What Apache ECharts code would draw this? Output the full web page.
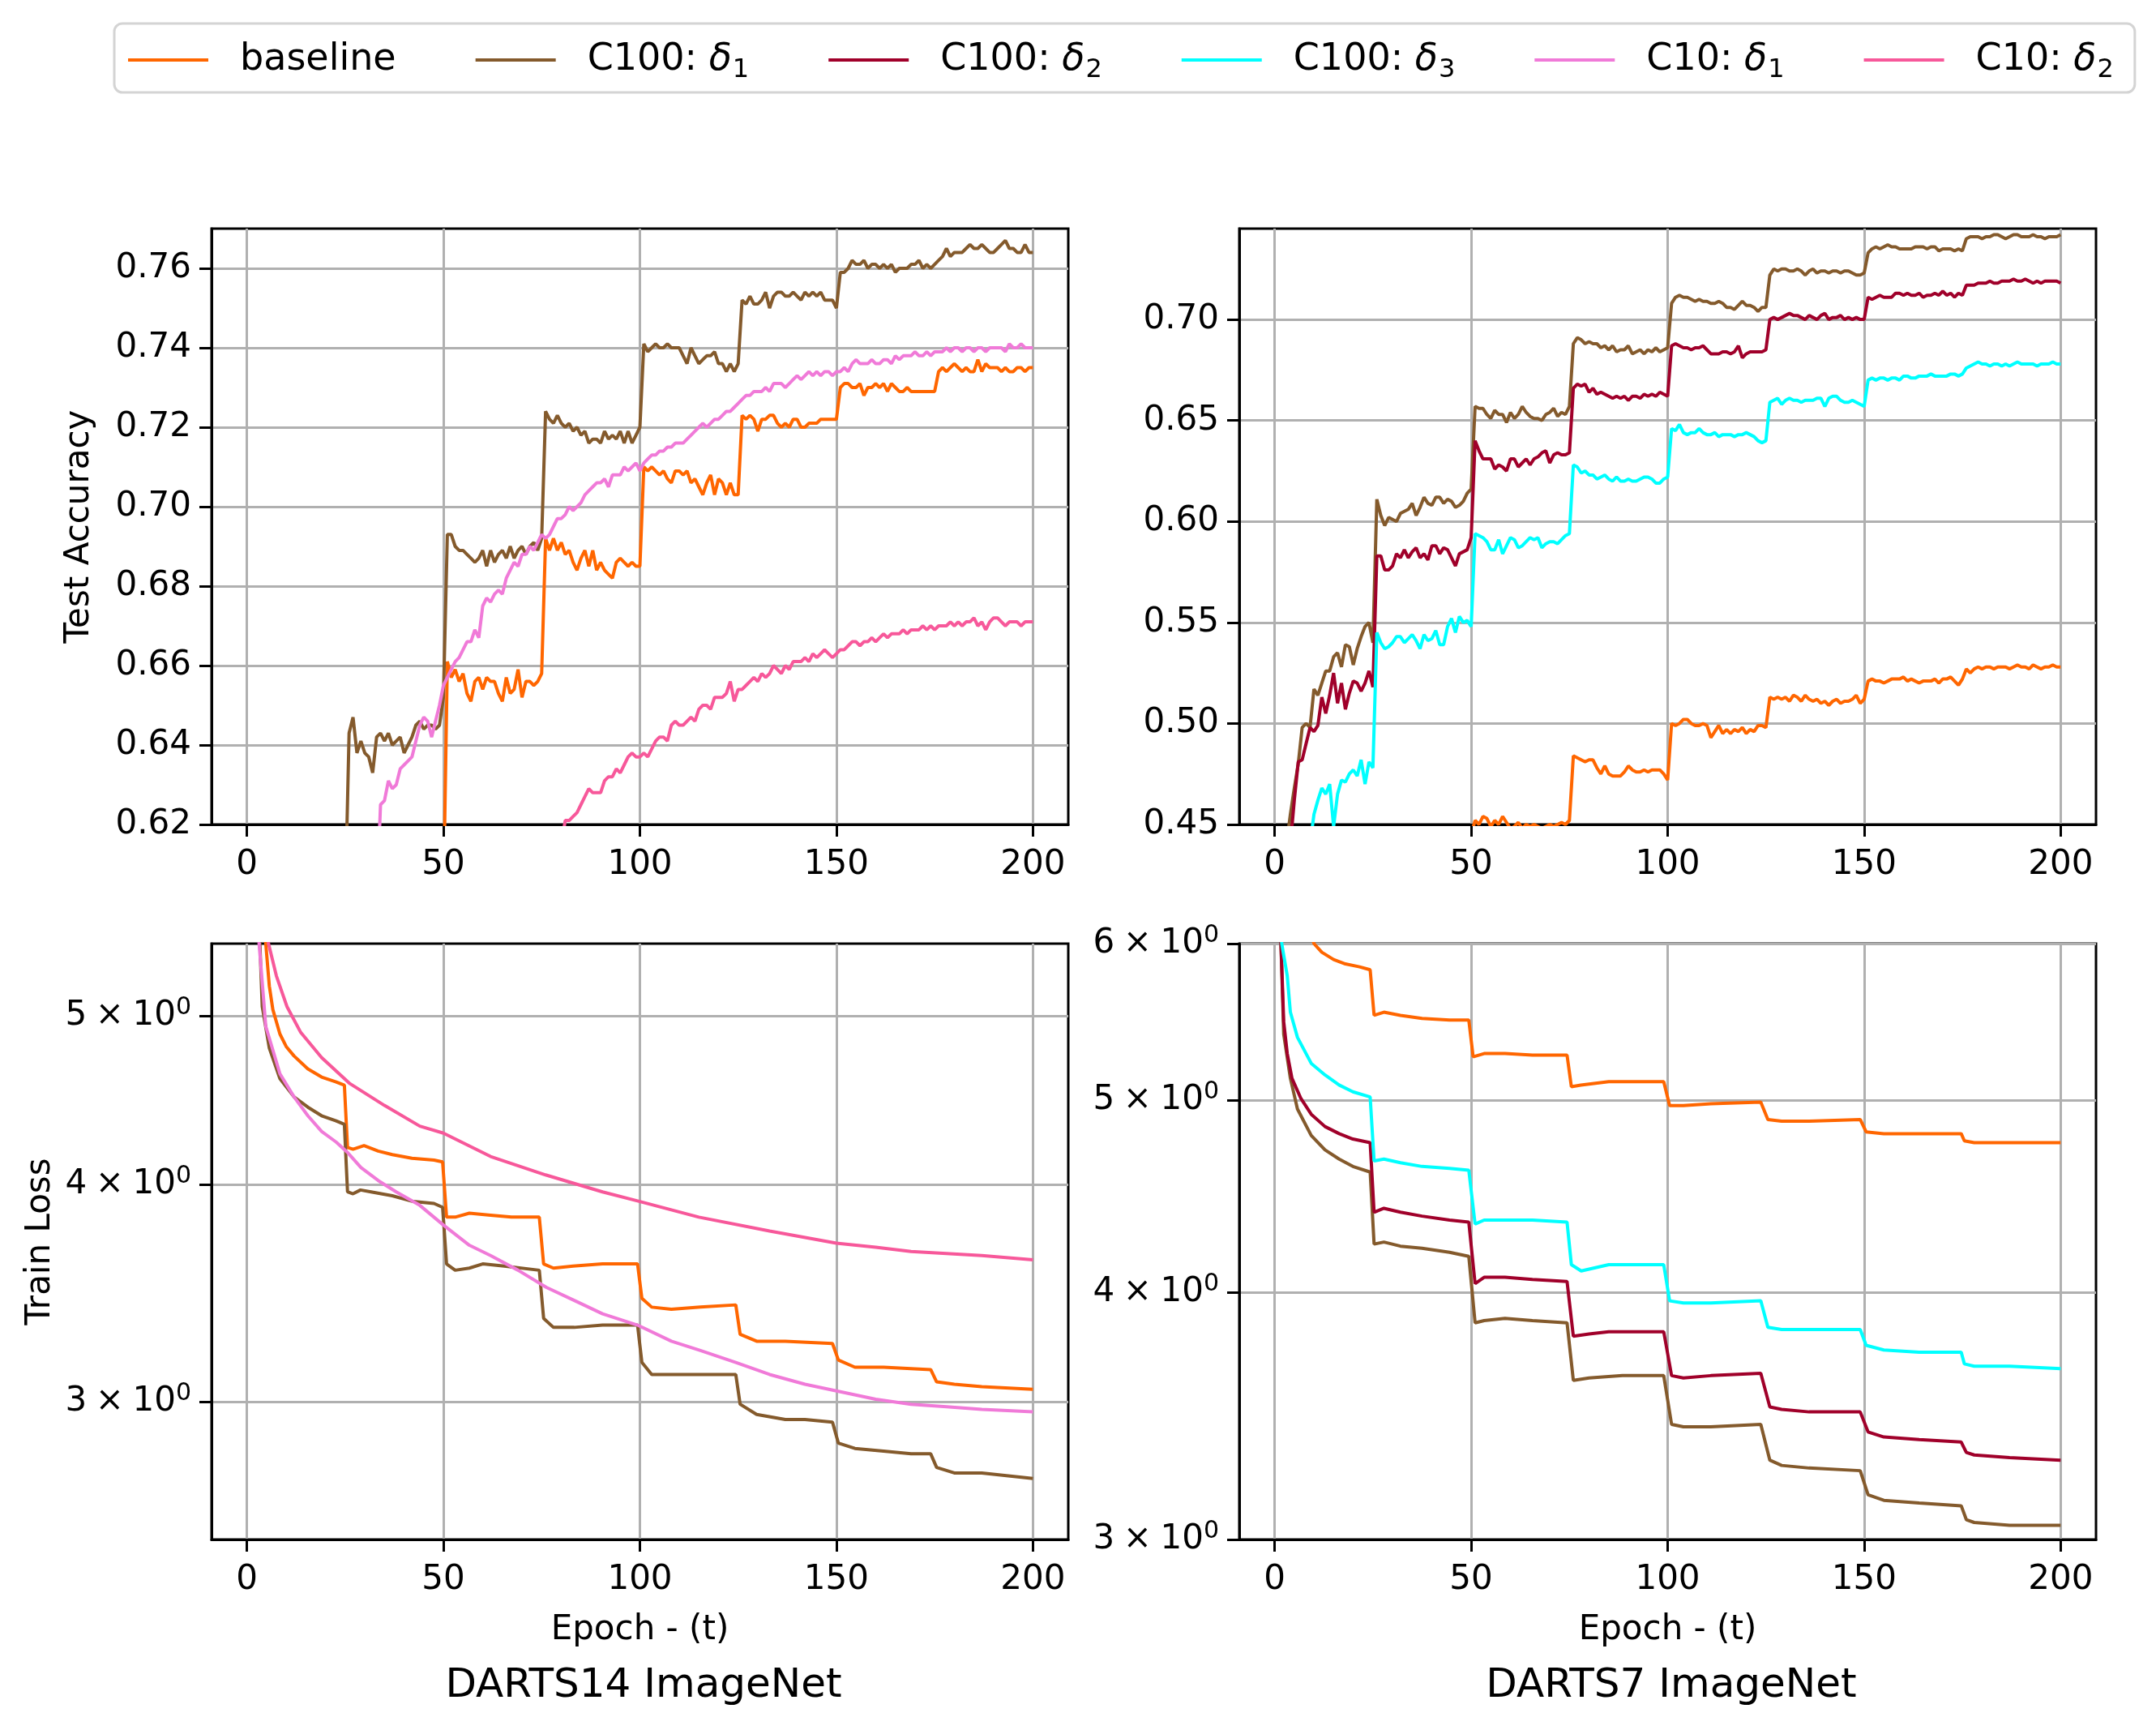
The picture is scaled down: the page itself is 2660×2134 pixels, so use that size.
<!DOCTYPE html>
<html><head><meta charset="utf-8">
<script src="https://cdn.jsdelivr.net/npm/echarts@6/dist/echarts.min.js"></script>
<style>html,body{margin:0;padding:0;background:#fff}#c{width:2660px;height:2134px}</style>
</head><body><div id="c"></div>
<script>
// ---------------- DATA ----------------
const seriesNames = ['baseline', 'C100: δ1', 'C100: δ2', 'C100: δ3', 'C10: δ1', 'C10: δ2'];
const panelTitles = ['DARTS14 ImageNet', 'DARTS7 ImageNet'];
const xTicks = [0, 50, 100, 150, 200];
const accTicks14 = [0.62, 0.64, 0.66, 0.68, 0.70, 0.72, 0.74, 0.76];
const accTicks7 = [0.45, 0.50, 0.55, 0.60, 0.65, 0.70];
const lossTicks14 = [3, 4, 5];
const lossTicks7 = [3, 4, 5, 6];

// DARTS14 test accuracy: per-epoch values starting at the given epoch
const acc14BaselineStart = 50;
const acc14Baseline = [
 0.600,0.661,0.657,0.659,0.656,0.658,0.653,0.651,0.656,0.657,
 0.654,0.657,0.656,0.656,0.653,0.651,0.657,0.653,0.654,0.659,
 0.652,0.656,0.656,0.655,0.656,0.658,0.692,0.689,0.692,0.689,
 0.691,0.688,0.689,0.686,0.684,0.687,0.689,0.685,0.689,0.684,
 0.686,0.684,0.683,0.682,0.686,0.687,0.686,0.685,0.686,0.685,
 0.685,0.710,0.709,0.710,0.709,0.708,0.709,0.707,0.706,0.709,
 0.709,0.708,0.709,0.706,0.707,0.705,0.703,0.706,0.708,0.703,
 0.707,0.706,0.703,0.706,0.703,0.703,0.723,0.722,0.723,0.722,
 0.719,0.722,0.722,0.723,0.723,0.721,0.720,0.721,0.720,0.722,
 0.722,0.720,0.720,0.721,0.721,0.721,0.722,0.722,0.722,0.722,
 0.722,0.730,0.731,0.731,0.730,0.730,0.731,0.728,0.730,0.730,
 0.731,0.730,0.731,0.729,0.731,0.730,0.729,0.729,0.730,0.729,
 0.729,0.729,0.729,0.729,0.729,0.729,0.734,0.735,0.734,0.735,
 0.736,0.735,0.734,0.735,0.734,0.734,0.737,0.734,0.736,0.735,
 0.735,0.735,0.734,0.735,0.734,0.734,0.735,0.735,0.734,0.735,0.735];
const acc14C100d1Start = 25;
const acc14C100d1 = [
 0.600,0.643,0.647,0.638,0.641,
 0.638,0.637,0.633,0.642,0.643,0.641,0.643,0.640,0.641,0.642,
 0.638,0.640,0.642,0.645,0.646,0.644,0.645,0.645,0.644,0.645,
 0.652,0.693,0.693,0.690,0.689,0.689,0.688,0.687,0.686,0.687,
 0.689,0.685,0.689,0.686,0.688,0.689,0.687,0.690,0.687,0.689,
 0.690,0.688,0.690,0.691,0.689,0.692,0.724,0.722,0.721,0.723,
 0.721,0.720,0.721,0.719,0.720,0.718,0.719,0.716,0.717,0.717,
 0.716,0.719,0.717,0.718,0.717,0.719,0.716,0.719,0.716,0.718,
 0.720,0.741,0.739,0.740,0.741,0.740,0.740,0.741,0.740,0.740,
 0.740,0.738,0.736,0.740,0.738,0.736,0.737,0.738,0.738,0.739,
 0.736,0.736,0.734,0.736,0.734,0.736,0.752,0.751,0.753,0.751,
 0.751,0.752,0.754,0.750,0.753,0.754,0.754,0.753,0.753,0.754,
 0.753,0.752,0.754,0.753,0.754,0.753,0.754,0.752,0.752,0.752,
 0.750,0.759,0.759,0.760,0.762,0.761,0.761,0.762,0.760,0.761,
 0.761,0.760,0.761,0.760,0.761,0.759,0.760,0.760,0.760,0.761,
 0.761,0.762,0.760,0.761,0.760,0.761,0.762,0.763,0.765,0.763,
 0.764,0.764,0.764,0.765,0.766,0.765,0.765,0.766,0.765,0.764,
 0.764,0.765,0.766,0.767,0.765,0.765,0.764,0.764,0.766,0.764,0.764];
const acc14C10d1Start = 33;
const acc14C10d1 = [
 0.600,0.625,0.626,0.631,0.629,0.630,0.634,
 0.635,0.636,0.637,0.641,0.645,0.647,0.646,0.642,0.646,0.650,
 0.655,0.657,0.659,0.661,0.662,0.664,0.666,0.666,0.669,0.667,
 0.675,0.677,0.676,0.678,0.679,0.678,0.682,0.684,0.686,0.685,
 0.688,0.688,0.690,0.689,0.691,0.693,0.692,0.693,0.695,0.697,
 0.697,0.698,0.700,0.699,0.700,0.701,0.703,0.704,0.705,0.706,
 0.706,0.707,0.705,0.708,0.708,0.708,0.710,0.709,0.710,0.711,
 0.709,0.711,0.712,0.713,0.713,0.714,0.714,0.715,0.715,0.716,
 0.716,0.716,0.717,0.718,0.719,0.720,0.721,0.720,0.721,0.722,
 0.722,0.723,0.724,0.724,0.725,0.726,0.727,0.728,0.728,0.729,
 0.729,0.729,0.730,0.729,0.731,0.731,0.731,0.730,0.731,0.732,
 0.733,0.732,0.733,0.734,0.733,0.734,0.733,0.734,0.734,0.733,
 0.734,0.734,0.735,0.734,0.736,0.737,0.736,0.736,0.736,0.737,
 0.736,0.736,0.737,0.737,0.736,0.738,0.737,0.738,0.738,0.738,
 0.739,0.738,0.738,0.739,0.738,0.739,0.739,0.739,0.740,0.739,
 0.740,0.740,0.739,0.740,0.740,0.739,0.740,0.740,0.739,0.740,
 0.740,0.740,0.740,0.739,0.741,0.740,0.740,0.741,0.740,0.740,0.740];
const acc14C10d2Start = 80;
const acc14C10d2 = [
 0.615,0.621,0.621,0.622,0.623,0.625,0.627,0.629,0.628,0.628,
 0.628,0.631,0.632,0.632,0.634,0.633,0.635,0.637,0.638,0.637,
 0.637,0.638,0.637,0.639,0.641,0.642,0.642,0.641,0.645,0.646,
 0.645,0.645,0.646,0.647,0.646,0.649,0.650,0.650,0.649,0.652,
 0.652,0.652,0.653,0.656,0.651,0.654,0.654,0.655,0.656,0.657,
 0.656,0.658,0.657,0.658,0.660,0.659,0.658,0.660,0.659,0.661,
 0.661,0.661,0.662,0.661,0.663,0.662,0.663,0.664,0.663,0.662,
 0.663,0.664,0.664,0.665,0.666,0.666,0.665,0.666,0.666,0.667,
 0.666,0.667,0.668,0.667,0.668,0.668,0.668,0.669,0.668,0.669,
 0.669,0.669,0.670,0.669,0.670,0.669,0.670,0.670,0.670,0.671,
 0.670,0.671,0.670,0.671,0.671,0.672,0.670,0.671,0.669,0.671,
 0.672,0.672,0.671,0.670,0.671,0.671,0.671,0.670,0.671,0.671,0.671];

// DARTS7 test accuracy
const acc7BaselineStart = 49;
const acc7Baseline = [
 0.440,
 0.445,0.452,0.450,0.454,0.453,0.449,0.452,0.450,0.454,0.451,
 0.448,0.449,0.451,0.448,0.450,0.449,0.450,0.449,0.448,0.449,
 0.450,0.449,0.450,0.451,0.450,0.452,0.484,0.483,0.482,0.481,
 0.482,0.482,0.478,0.475,0.479,0.475,0.474,0.474,0.474,0.476,
 0.479,0.477,0.476,0.476,0.477,0.476,0.477,0.477,0.477,0.475,
 0.472,0.500,0.499,0.500,0.502,0.502,0.500,0.499,0.499,0.500,
 0.499,0.493,0.496,0.499,0.495,0.497,0.495,0.497,0.496,0.498,
 0.495,0.497,0.496,0.499,0.499,0.498,0.513,0.512,0.513,0.512,
 0.513,0.511,0.514,0.513,0.511,0.514,0.512,0.511,0.512,0.510,
 0.511,0.509,0.511,0.512,0.510,0.511,0.511,0.512,0.514,0.510,
 0.512,0.521,0.522,0.521,0.521,0.520,0.521,0.522,0.522,0.522,
 0.523,0.521,0.522,0.521,0.520,0.521,0.521,0.521,0.522,0.520,
 0.522,0.522,0.523,0.521,0.519,0.522,0.527,0.525,0.527,0.528,
 0.527,0.528,0.528,0.527,0.528,0.528,0.528,0.527,0.528,0.529,
 0.528,0.528,0.527,0.529,0.528,0.527,0.528,0.528,0.529,0.528,0.528];
const acc7C100d1Start = 3;
const acc7C100d1 = [
 0.440,0.455,0.468,0.480,0.498,0.500,0.498,
 0.517,0.514,0.520,0.526,0.526,0.533,0.535,0.528,0.539,0.538,
 0.529,0.537,0.543,0.548,0.550,0.540,0.611,0.603,0.598,0.602,
 0.601,0.600,0.604,0.605,0.606,0.609,0.603,0.607,0.612,0.609,
 0.608,0.612,0.612,0.609,0.611,0.610,0.607,0.608,0.610,0.614,
 0.616,0.657,0.656,0.656,0.653,0.651,0.655,0.653,0.653,0.649,
 0.654,0.651,0.653,0.657,0.654,0.652,0.651,0.651,0.650,0.653,
 0.654,0.656,0.652,0.654,0.653,0.657,0.688,0.691,0.690,0.688,
 0.689,0.688,0.688,0.686,0.687,0.685,0.687,0.684,0.685,0.685,
 0.687,0.683,0.684,0.685,0.683,0.685,0.684,0.686,0.684,0.685,
 0.686,0.708,0.711,0.712,0.711,0.711,0.710,0.709,0.710,0.709,
 0.709,0.708,0.708,0.709,0.708,0.706,0.706,0.705,0.707,0.709,
 0.707,0.707,0.706,0.704,0.706,0.706,0.722,0.725,0.724,0.725,
 0.725,0.724,0.724,0.725,0.724,0.722,0.724,0.725,0.723,0.724,
 0.724,0.723,0.724,0.724,0.723,0.724,0.724,0.723,0.722,0.722,
 0.723,0.733,0.735,0.736,0.735,0.736,0.737,0.736,0.736,0.735,
 0.735,0.735,0.735,0.736,0.736,0.736,0.735,0.736,0.736,0.734,
 0.735,0.735,0.735,0.734,0.735,0.734,0.740,0.741,0.741,0.741,
 0.740,0.741,0.741,0.742,0.742,0.741,0.740,0.741,0.742,0.742,
 0.741,0.741,0.741,0.742,0.741,0.741,0.740,0.741,0.741,0.741,0.742];
const acc7C100d2Start = 4;
const acc7C100d2 = [
 0.440,0.462,0.481,0.482,0.490,0.498,
 0.496,0.499,0.513,0.505,0.514,0.525,0.510,0.520,0.507,0.515,
 0.521,0.520,0.516,0.520,0.526,0.518,0.583,0.583,0.576,0.576,
 0.578,0.584,0.582,0.586,0.582,0.585,0.587,0.582,0.584,0.581,
 0.588,0.588,0.584,0.587,0.586,0.582,0.578,0.584,0.585,0.586,
 0.592,0.640,0.635,0.631,0.631,0.631,0.626,0.628,0.627,0.625,
 0.631,0.631,0.627,0.629,0.631,0.628,0.631,0.632,0.634,0.635,
 0.629,0.633,0.634,0.633,0.633,0.634,0.666,0.668,0.667,0.668,
 0.664,0.666,0.663,0.664,0.663,0.662,0.661,0.662,0.661,0.662,
 0.660,0.662,0.662,0.661,0.663,0.662,0.663,0.662,0.664,0.663,
 0.662,0.687,0.688,0.687,0.686,0.686,0.685,0.686,0.686,0.687,
 0.685,0.683,0.683,0.683,0.684,0.684,0.683,0.684,0.687,0.681,
 0.683,0.684,0.684,0.684,0.684,0.685,0.700,0.701,0.700,0.701,
 0.702,0.703,0.702,0.702,0.701,0.700,0.702,0.701,0.700,0.702,
 0.703,0.700,0.701,0.701,0.702,0.700,0.701,0.700,0.701,0.700,
 0.700,0.711,0.710,0.711,0.712,0.711,0.711,0.711,0.713,0.713,
 0.712,0.713,0.712,0.712,0.713,0.711,0.712,0.712,0.713,0.712,
 0.714,0.712,0.713,0.711,0.713,0.712,0.717,0.717,0.717,0.718,
 0.718,0.718,0.719,0.718,0.718,0.719,0.719,0.719,0.720,0.719,
 0.719,0.720,0.719,0.718,0.719,0.718,0.719,0.719,0.719,0.719,0.718];
const acc7C100d3Start = 9;
const acc7C100d3 = [
 0.440,
 0.455,0.462,0.468,0.465,0.470,0.449,0.465,0.472,0.471,0.475,
 0.477,0.474,0.482,0.470,0.481,0.478,0.545,0.540,0.537,0.538,
 0.540,0.543,0.543,0.540,0.542,0.544,0.541,0.537,0.544,0.541,
 0.542,0.546,0.539,0.539,0.548,0.552,0.545,0.553,0.550,0.551,
 0.548,0.594,0.593,0.592,0.590,0.586,0.586,0.591,0.584,0.588,
 0.592,0.591,0.587,0.588,0.590,0.592,0.591,0.592,0.587,0.589,
 0.590,0.590,0.589,0.591,0.593,0.594,0.628,0.627,0.624,0.625,
 0.623,0.623,0.621,0.622,0.623,0.621,0.620,0.622,0.620,0.620,
 0.621,0.620,0.620,0.621,0.622,0.622,0.621,0.619,0.619,0.621,
 0.622,0.646,0.645,0.648,0.644,0.643,0.644,0.644,0.646,0.644,
 0.643,0.643,0.644,0.642,0.643,0.643,0.643,0.642,0.643,0.643,
 0.644,0.643,0.642,0.640,0.639,0.640,0.659,0.660,0.661,0.658,
 0.660,0.661,0.660,0.660,0.659,0.660,0.660,0.660,0.661,0.661,
 0.657,0.661,0.662,0.662,0.660,0.659,0.659,0.660,0.659,0.658,
 0.657,0.670,0.671,0.670,0.671,0.671,0.670,0.671,0.671,0.670,
 0.672,0.672,0.671,0.671,0.672,0.672,0.672,0.673,0.672,0.672,
 0.672,0.672,0.673,0.673,0.672,0.673,0.676,0.677,0.678,0.679,
 0.678,0.678,0.677,0.678,0.678,0.677,0.678,0.677,0.678,0.679,
 0.678,0.678,0.678,0.678,0.677,0.678,0.678,0.678,0.679,0.678,0.678];

// DARTS14 train loss: [epoch, loss]
const loss14Baseline = [[4,5.9],[4.8,5.5],[5.7,5.2],[6.6,5.04],[8.4,4.88],[10,4.80],[12,4.74],[15.5,4.66],[19,4.61],[22.7,4.58],[24.8,4.56],[25.6,4.20],[27,4.19],[29.8,4.21],[33.4,4.18],[37,4.16],[42,4.14],[47.6,4.13],[49.8,4.12],[50.8,3.83],[53,3.83],[56.6,3.85],[62,3.84],[67.3,3.83],[74.4,3.83],[75.5,3.60],[78,3.58],[83,3.59],[90.5,3.60],[99.4,3.60],[100.5,3.44],[103,3.40],[108,3.39],[115.4,3.40],[124.4,3.41],[125.5,3.28],[129.7,3.25],[137,3.25],[149,3.24],[150.5,3.17],[154.7,3.14],[162,3.14],[174,3.13],[175.5,3.08],[180,3.07],[187,3.06],[200,3.05]];
const loss14C100d1 = [[2.5,6.0],[3.3,5.5],[3.9,5.06],[5.7,4.79],[8.4,4.60],[12,4.49],[15.5,4.43],[19,4.38],[22.7,4.35],[24.8,4.33],[25.6,3.96],[27,3.95],[28.9,3.97],[31.6,3.96],[37,3.94],[42.3,3.91],[47.6,3.90],[49.8,3.88],[50.8,3.60],[53,3.57],[56.6,3.58],[60,3.60],[65.5,3.59],[74.4,3.57],[75.5,3.35],[78,3.31],[83.3,3.31],[90.5,3.32],[99.4,3.32],[100.5,3.16],[103,3.11],[108,3.11],[115,3.11],[124.4,3.11],[125.5,2.99],[129.7,2.95],[137,2.93],[142,2.93],[149,2.92],[150.5,2.84],[154.7,2.82],[162,2.81],[169,2.80],[174,2.80],[175.5,2.75],[180,2.73],[187,2.73],[200,2.71]];
const loss14C10d1 = [[2.5,6.0],[3.1,5.5],[4.8,4.93],[8.4,4.63],[12,4.49],[15.5,4.38],[19,4.29],[22.7,4.23],[25.7,4.17],[29,4.09],[33.4,4.02],[38,3.96],[44,3.89],[50,3.79],[56.6,3.69],[62,3.64],[69,3.57],[76.2,3.49],[83.3,3.43],[90.5,3.37],[99.4,3.32],[108,3.25],[115.4,3.21],[124.4,3.16],[133,3.11],[142,3.07],[151,3.04],[160,3.01],[169,2.99],[178,2.98],[187,2.97],[200,2.96]];
const loss14C10d2 = [[4.5,6.0],[5.5,5.5],[7.5,5.27],[10.2,5.06],[13.7,4.89],[19,4.73],[26.2,4.57],[35,4.44],[44,4.32],[50,4.28],[62,4.15],[76,4.05],[90.5,3.96],[100,3.91],[115,3.83],[133,3.76],[150,3.70],[160,3.68],[169,3.66],[187,3.64],[200,3.62]];

// DARTS7 train loss: [epoch, loss]
const loss7Baseline = [[8,6.2],[10,6.0],[12,5.94],[15,5.89],[18,5.86],[21.6,5.84],[24.3,5.82],[25.3,5.52],[27.8,5.54],[32,5.52],[37.5,5.50],[44.5,5.49],[49.4,5.49],[50.5,5.26],[53.3,5.28],[58.6,5.28],[65.6,5.27],[74.4,5.27],[75.5,5.08],[77.9,5.09],[85,5.11],[90,5.11],[99,5.11],[100.5,4.97],[104,4.97],[111,4.98],[123.7,4.99],[125.5,4.89],[129,4.88],[136,4.88],[149,4.89],[150.5,4.82],[155,4.81],[164,4.81],[174.7,4.81],[175.5,4.77],[178,4.76],[187,4.76],[200,4.76]];
const loss7C100d1 = [[1.3,6.2],[1.6,6.0],[2.3,5.40],[4,5.13],[5.8,4.95],[9.3,4.80],[12.8,4.72],[16.4,4.67],[19.9,4.63],[24.3,4.60],[25.3,4.23],[27.8,4.24],[32,4.22],[37.5,4.21],[44.5,4.19],[49.4,4.17],[51,3.86],[53.3,3.87],[58.6,3.88],[65.6,3.87],[74.4,3.86],[76,3.61],[80,3.62],[88.5,3.63],[99,3.63],[101,3.43],[104,3.42],[111,3.42],[123.7,3.43],[126,3.29],[129,3.27],[136,3.26],[149,3.25],[151,3.16],[155,3.14],[164,3.13],[174.7,3.12],[176,3.07],[178,3.06],[187,3.05],[200,3.05]];
const loss7C100d2 = [[1.3,6.2],[1.6,6.0],[2.3,5.48],[3.2,5.28],[4.4,5.13],[6.7,5.01],[9.3,4.92],[12.8,4.85],[16.4,4.81],[19.9,4.78],[24.3,4.76],[25.3,4.39],[27.8,4.41],[32,4.39],[37.5,4.37],[44.5,4.35],[49.4,4.34],[51,4.04],[53.3,4.07],[58.6,4.07],[65.6,4.06],[74.4,4.05],[76,3.80],[80,3.81],[85,3.82],[94,3.82],[99,3.82],[101,3.63],[104,3.62],[111,3.63],[123.7,3.64],[126,3.50],[129,3.49],[136,3.48],[149,3.48],[151,3.40],[155,3.38],[164,3.37],[174.7,3.36],[176,3.32],[178,3.31],[187,3.30],[200,3.29]];
const loss7C100d3 = [[1.5,6.2],[1.8,6.0],[3.2,5.78],[4,5.54],[5.8,5.38],[9.3,5.22],[12.8,5.15],[16.4,5.09],[19.9,5.05],[24.3,5.02],[25.3,4.66],[27.8,4.67],[32,4.65],[37.5,4.63],[44.5,4.62],[49.4,4.61],[51,4.33],[53.3,4.35],[58.6,4.35],[65.6,4.35],[74.4,4.34],[75.5,4.13],[78,4.10],[85,4.13],[90,4.13],[99,4.13],[100.5,3.96],[104,3.95],[111,3.95],[123.7,3.96],[125.5,3.84],[129,3.83],[136,3.83],[149,3.83],[150.5,3.76],[155,3.74],[164,3.73],[174.7,3.73],[175.5,3.68],[178,3.67],[187,3.67],[200,3.66]];

// ---------------- STYLE ----------------
const FONT = 'DejaVu Sans';
const colors = {
  'baseline': '#ff6600',
  'C100: δ1': '#845a2c',
  'C100: δ2': '#a0002a',
  'C100: δ3': '#00ffff',
  'C10: δ1': '#f07ad8',
  'C10: δ2': '#f7589a'
};
const legendLabels = {
  'baseline': '{n|baseline}',
  'C100: δ1': '{n|C100: }{i|δ}{s|1}',
  'C100: δ2': '{n|C100: }{i|δ}{s|2}',
  'C100: δ3': '{n|C100: }{i|δ}{s|3}',
  'C10: δ1': '{n|C10: }{i|δ}{s|1}',
  'C10: δ2': '{n|C10: }{i|δ}{s|2}'
};

const fromStart = (start, arr) => arr.map((v, i) => [start + i, v]);

function line(name, data, idx) {
  return {
    type: 'line', name, data, xAxisIndex: idx, yAxisIndex: idx,
    showSymbol: false, symbol: 'none', clip: true, silent: true,
    lineStyle: { width: 4, color: colors[name] },
    itemStyle: { color: colors[name] },
    animation: false
  };
}

const axisCommon = {
  axisLine: { show: true, onZero: false, lineStyle: { color: '#000', width: 3 } },
  splitLine: { show: true, lineStyle: { color: '#b0b0b0', width: 3 } }
};

function xAx(gi, withName) {
  return Object.assign({}, axisCommon, {
    type: 'value', gridIndex: gi, min: -9, max: 209,
    axisTick: { show: true, inside: false, length: 15, customValues: xTicks, lineStyle: { color: '#000', width: 3 } },
    axisLabel: { customValues: xTicks, fontSize: 42, fontFamily: FONT, color: '#000', margin: 29 },
    name: withName ? 'Epoch - (t)' : '',
    nameLocation: 'middle', nameGap: 91,
    nameTextStyle: { fontSize: 42, fontFamily: FONT, color: '#000' }
  });
}

const supRich = {
  b: { fontSize: 42, fontFamily: FONT, color: '#000', verticalAlign: 'middle' },
  p: { fontSize: 30, lineHeight: 30, fontFamily: FONT, color: '#000', verticalAlign: 'middle', padding: [0, 0, 20, 0] }
};

function yAx(gi, opts) {
  return Object.assign({}, axisCommon, {
    gridIndex: gi,
    axisTick: { show: true, inside: false, length: 15, customValues: opts.ticks, lineStyle: { color: '#000', width: 3 } },
    axisLabel: { customValues: opts.ticks, fontSize: 42, fontFamily: FONT, color: '#000', margin: 25, formatter: opts.fmt, rich: opts.rich },
    name: opts.name || '', nameLocation: 'middle', nameGap: opts.gap || 0,
    nameTextStyle: { fontSize: 42, fontFamily: FONT, color: '#000' }
  }, opts.scale);
}

const fmt2 = v => Number(v).toFixed(2);
const fmtSci = v => '{b|' + Math.round(Number(v)) + '\u2005×\u200510}{p|0}';

const grids = [
  { left: 261, top: 282, width: 1057, height: 735 },
  { left: 1529, top: 282, width: 1057, height: 735 },
  { left: 261, top: 1164, width: 1057, height: 735 },
  { left: 1529, top: 1164, width: 1057, height: 735 }
].map(g => Object.assign(g, { show: true, borderColor: '#000', borderWidth: 3, backgroundColor: 'transparent' }));

const option = {
  backgroundColor: '#fff',
  animation: false,
  textStyle: { fontFamily: FONT },
  title: [
    { text: panelTitles[0], left: 789, top: 2050, textAlign: 'center', textStyle: { fontSize: 50, fontWeight: 'normal', fontFamily: FONT, color: '#000' } },
    { text: panelTitles[1], left: 2057, top: 2050, textAlign: 'center', textStyle: { fontSize: 50, fontWeight: 'normal', fontFamily: FONT, color: '#000' } }
  ],
  legend: {
    data: seriesNames, left: 141, top: 29, orient: 'horizontal',
    icon: 'rect', itemWidth: 99, itemHeight: 4, itemGap: 98,
    selectedMode: false,
    padding: [16, 26, 11, 17],
    borderColor: '#d4d4d4', borderWidth: 3, borderRadius: 10,
    formatter: n => legendLabels[n],
    textStyle: {
      fontSize: 46, fontFamily: FONT, color: '#000', padding: [0, 0, 0, 34],
      rich: {
        n: { fontSize: 46, fontFamily: FONT, color: '#000', verticalAlign: 'middle' },
        i: { fontStyle: 'italic', fontSize: 46, fontFamily: FONT, color: '#000', verticalAlign: 'middle' },
        s: { fontSize: 32, lineHeight: 32, fontFamily: FONT, color: '#000', verticalAlign: 'middle', padding: [26, 0, 0, 1] }
      }
    }
  },
  grid: grids,
  xAxis: [xAx(0, false), xAx(1, false), xAx(2, true), xAx(3, true)],
  yAxis: [
    yAx(0, { ticks: accTicks14, fmt: fmt2, name: 'Test Accuracy', gap: 142, scale: { type: 'value', min: 0.62, max: 0.77 } }),
    yAx(1, { ticks: accTicks7, fmt: fmt2, scale: { type: 'value', min: 0.45, max: 0.745 } }),
    yAx(2, { ticks: lossTicks14, fmt: fmtSci, rich: supRich, name: 'Train Loss', gap: 190, scale: { type: 'log', logBase: 10, min: 2.5, max: 5.5 } }),
    yAx(3, { ticks: lossTicks7, fmt: fmtSci, rich: supRich, scale: { type: 'log', logBase: 10, min: 3, max: 6 } })
  ],
  series: [
    line('baseline', fromStart(acc14BaselineStart, acc14Baseline), 0),
    line('C100: δ1', fromStart(acc14C100d1Start, acc14C100d1), 0),
    line('C10: δ1', fromStart(acc14C10d1Start, acc14C10d1), 0),
    line('C10: δ2', fromStart(acc14C10d2Start, acc14C10d2), 0),

    line('baseline', fromStart(acc7BaselineStart, acc7Baseline), 1),
    line('C100: δ1', fromStart(acc7C100d1Start, acc7C100d1), 1),
    line('C100: δ2', fromStart(acc7C100d2Start, acc7C100d2), 1),
    line('C100: δ3', fromStart(acc7C100d3Start, acc7C100d3), 1),

    line('baseline', loss14Baseline, 2),
    line('C100: δ1', loss14C100d1, 2),
    line('C10: δ1', loss14C10d1, 2),
    line('C10: δ2', loss14C10d2, 2),

    line('baseline', loss7Baseline, 3),
    line('C100: δ1', loss7C100d1, 3),
    line('C100: δ2', loss7C100d2, 3),
    line('C100: δ3', loss7C100d3, 3)
  ]
};

const chart = echarts.init(document.getElementById('c'), null, { renderer: 'canvas', width: 2660, height: 2134 });
chart.setOption(option);
</script>
</body></html>
